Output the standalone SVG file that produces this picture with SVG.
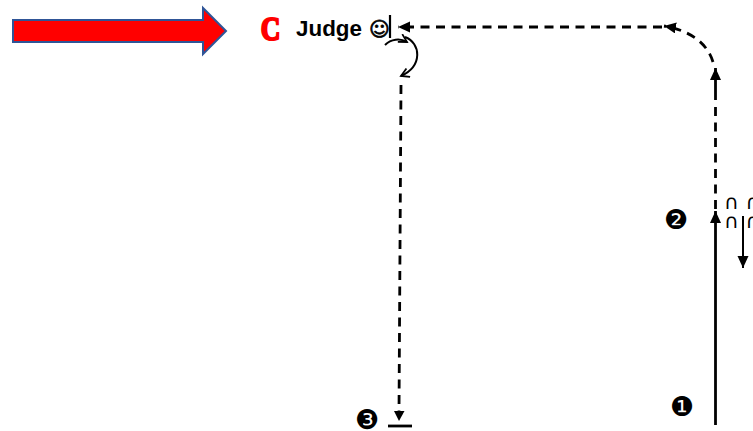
<svg xmlns="http://www.w3.org/2000/svg" width="753" height="431" viewBox="0 0 753 431">
<style>
.l{fill:none;stroke:#000;stroke-width:2.8}
.d{stroke-dasharray:9 6.500}
.t{fill:#000;font-family:"DejaVu Sans",sans-serif}
.n{font-size:27px;text-anchor:middle}
.k{font-size:20px;text-anchor:middle}
.c{fill:none;stroke:#000;stroke-width:2}
</style>
<defs>
<marker id="h" markerUnits="userSpaceOnUse" markerWidth="14" markerHeight="12" refX="12" refY="5.500" orient="auto"><path d="M0 0L12 5.500L0 11z" fill="#000"/></marker>
<marker id="o" markerUnits="userSpaceOnUse" markerWidth="12" markerHeight="12" refX="9" refY="5" orient="auto"><path d="M1 0.500L9 5L1 9.500" fill="none" stroke="#000" stroke-width="1.800"/></marker>
</defs>
<rect width="753" height="431" fill="#fff"/>
<g id="banner-arrow"><path d="M13 20H203V8L226 31L203 54V42H13z" fill="#f00" stroke="#2f5597" stroke-width="2"/></g>
<g id="judge">
<text transform="translate(270.500 39.500) scale(.8 1)" text-anchor="middle" font-family="'Liberation Serif',serif" font-weight="700" font-size="34" fill="#f00" stroke="#f00" stroke-width="2.200">C</text>
<text x="296" y="36" font-family="'Liberation Sans',sans-serif" font-weight="700" font-size="22.400" fill="#000">Judge</text>
<text x="379.500" y="36" text-anchor="middle" class="t" font-size="20" stroke="#000" stroke-width="0.700">☺</text>
<path d="M390 15V38" fill="none" stroke="#000" stroke-width="2.200"/>
</g>
<g id="connectors">
<path class="l" d="M715.500 425V211" marker-end="url(#h)"/>
<path class="l d" d="M715.500 209V104"/>
<path class="l" d="M715.500 100V68" marker-end="url(#h)"/>
<path class="l d" d="M713 62C707 42 688 30 664 26" marker-end="url(#h)"/>
<path class="l d" d="M662 27H398" marker-end="url(#h)"/>
<path class="l d" d="M401 85L399 412"/>
<path d="M394 411H404.500L399 421z" fill="#000"/>
<path class="l" d="M388 426H412"/>
<path class="c" d="M385 45C391 39 400 38 407 42" marker-end="url(#o)"/>
<path class="c" d="M405 37C421 43 423 66 401 76" marker-end="url(#o)"/>
<path d="M743 216V268" fill="none" stroke="#000" stroke-width="2" marker-end="url(#h)"/>
</g>
<g id="labels">
<text x="731.500" y="209" class="t k">∩</text>
<text x="753" y="209" class="t k">∩</text>
<text x="731.500" y="228" class="t k">∩</text>
<text x="753" y="228" class="t k">∩</text>
<text x="676" y="229" class="t n">❷</text>
<text x="682" y="416" class="t n">❶</text>
<text x="367" y="429" class="t n">❸</text>
</g>
</svg>
